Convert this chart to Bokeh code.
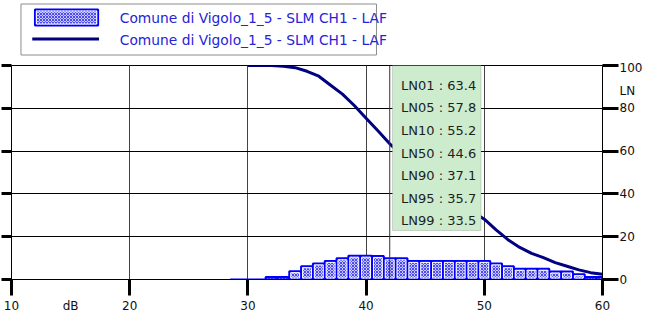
from bokeh.plotting import figure
from bokeh.models import (ColumnDataSource, Range1d, FixedTicker, LinearAxis,
                          BoxAnnotation, Span, LabelSet)
from bokeh.layouts import column
from bokeh.embed import file_html
from bokeh.resources import INLINE
from bokeh.core.properties import value

# ---------------- data ----------------
bin_db = [29, 30, 31, 32, 33, 34, 35, 36, 37, 38, 39, 40, 41, 42, 43, 44,
          45, 46, 47, 48, 49, 50, 51, 52, 53, 54, 55, 56, 57, 58, 59, 60]
bin_pct = [0, 0, 0, 1.2, 1.2, 3.9, 6.2, 7.5, 8.7, 9.9, 11.1, 11.1, 11.0, 9.9, 9.9, 8.7,
           8.7, 8.7, 8.7, 8.7, 8.7, 8.7, 7.5, 6.2, 5.0, 5.0, 5.0, 3.7, 3.7, 2.5, 1.2, 1.2]

curve_db = [30, 31, 32, 33, 34, 35, 36, 37, 38, 39, 40, 41, 42, 43, 44, 45,
            46, 47, 48, 49, 50, 51, 52, 53, 54, 55, 56, 57, 58, 59, 60]
curve_pct = [100, 100, 100, 99.7, 99.0, 97.3, 95.0, 90.8, 86.6, 81.3, 75.3, 69.5, 63.4, 58.4, 53.2, 48.3,
             43.8, 39.6, 35.6, 31.8, 28.2, 23.2, 18.6, 15.0, 12.2, 10.2, 7.9, 6.2, 4.5, 3.2, 2.5]

ln_names = ["LN01", "LN05", "LN10", "LN50", "LN90", "LN95", "LN99"]
ln_values = [63.4, 57.8, 55.2, 44.6, 37.1, 35.7, 33.5]

x_ticks = [10, 20, 30, 40, 50, 60]
y_ticks = [0, 20, 40, 60, 80, 100]
series_label = "Comune di Vigolo_1_5 - SLM  CH1 - LAF"
x_unit = "dB"
y_unit = "LN"
x_unit_pos = 15
y_unit_pos = 88
cursor_db = 42.0

# ---------------- styles ----------------
FONT_NAME = "DejaVu Sans"
FONT = value(FONT_NAME)
NAVY = "#000080"
BAR_STYLE = dict(fill_color="#c8c8ff", line_color="#0000ff", line_width=2,
                 hatch_pattern="x", hatch_scale=3, hatch_color="#4a4af0", hatch_weight=1)
W = 655
LEG_H = 60
MAIN_H = 258

# ---------------- legend strip (pixel space) ----------------
lg = figure(width=W, height=LEG_H, x_range=Range1d(0, W), y_range=Range1d(LEG_H, 0),
            toolbar_location=None, output_backend="svg", x_axis_type=None, y_axis_type=None,
            min_border=0, min_border_left=0, min_border_right=0, min_border_top=0,
            min_border_bottom=0, outline_line_color=None)
lg.quad(left=[10.5], right=[404.5], top=[3.5], bottom=[54.5], fill_color="white",
        line_color="#8c8c8c", line_width=1)
lg.quad(left=[26], right=[96], top=[9], bottom=[25], **BAR_STYLE)
lg.quad(left=[27.5], right=[94.5], top=[10.5], bottom=[23.5], fill_color=None,
        line_color="white", line_width=1)
lg.line(x=[23, 97], y=[38.5, 38.5], line_color=NAVY, line_width=3)
lg.text(x=[120, 120], y=[17, 39], text=[series_label, series_label], text_font=FONT,
        text_font_size="13.8px", text_color="#2424d8", text_baseline="middle", text_align="left")

# ---------------- main plot ----------------
p = figure(width=W, height=MAIN_H, x_range=Range1d(10, 60), y_range=Range1d(0, 100),
           toolbar_location=None, output_backend="svg", y_axis_location="right",
           min_border_left=11, min_border_right=53, min_border_top=5, min_border_bottom=39)
p.outline_line_color = "black"
p.outline_line_width = 1

# grids
p.xgrid.ticker = FixedTicker(ticks=x_ticks[1:-1])
p.xgrid.grid_line_color = "#444444"
p.ygrid.ticker = FixedTicker(ticks=y_ticks[1:-1])
p.ygrid.grid_line_color = "black"

def tick_axis(ax, ticks, out):
    """Axis that draws only its tick marks (labels switched off)."""
    ax.ticker = FixedTicker(ticks=ticks)
    ax.major_tick_out = out
    ax.major_tick_in = 0
    ax.major_tick_line_width = 3
    ax.major_tick_line_color = "black"
    ax.minor_tick_line_color = None
    ax.axis_line_color = "black"
    ax.major_label_standoff = 0
    ax.major_label_text_color = None
    ax.major_label_text_font_size = "0px"

def label_axis(ax, ticks, overrides, standoff):
    """Axis that draws only its labels."""
    ax.ticker = FixedTicker(ticks=ticks)
    ax.major_label_overrides = overrides
    ax.major_tick_out = 0
    ax.major_tick_in = 0
    ax.major_tick_line_color = None
    ax.minor_tick_line_color = None
    ax.axis_line_color = None
    ax.major_label_standoff = standoff
    ax.major_label_text_font = FONT_NAME
    ax.major_label_text_font_size = "12px"
    ax.major_label_text_color = "#111111"

# bottom: tick marks, then labels (incl. unit)
tick_axis(p.xaxis[0], x_ticks, 16)
xb = LinearAxis()
label_axis(xb, sorted(x_ticks + [x_unit_pos]), {x_unit_pos: x_unit}, 3)
p.add_layout(xb, "below")

# right: tick marks, then labels (incl. unit)
tick_axis(p.yaxis[0], y_ticks, 16)
yr = LinearAxis()
label_axis(yr, sorted(y_ticks + [y_unit_pos]), {y_unit_pos: y_unit}, 1)
p.add_layout(yr, "right")

# left: tick stubs only
yl = LinearAxis()
tick_axis(yl, y_ticks, 10)
p.add_layout(yl, "left")

# histogram bars (blue outline, white inner rim)
p.vbar(x=bin_db, width=1, top=bin_pct, bottom=0, **BAR_STYLE)
inner = [(x, t) for x, t in zip(bin_db, bin_pct) if t > 1.5]
p.vbar(x=[x for x, _ in inner], width=0.75, top=[t - 0.7 for _, t in inner], bottom=0.7,
       fill_color=None, line_color="white", line_width=1)

# cumulative curve
p.line(curve_db, curve_pct, line_color=NAVY, line_width=3, line_join="round")

# cursor
p.add_layout(Span(location=cursor_db, dimension="height", line_color="#333333", line_width=1))

# LN statistics box
p.add_layout(BoxAnnotation(left=42.23, right=49.72, top=100, bottom=22.9,
                           fill_color="#cdeccd", fill_alpha=1,
                           line_color="#7f7f7f", line_width=1))
row_top, row_step = 90.7, 10.55
src = ColumnDataSource(dict(
    x=[42.96] * len(ln_names),
    y=[row_top - i * row_step for i in range(len(ln_names))],
    text=[f"{n} : {v}" for n, v in zip(ln_names, ln_values)]))
p.add_layout(LabelSet(x="x", y="y", text="text", source=src, text_font=FONT,
                      text_font_size="13px", text_color="#1e1e1e",
                      text_baseline="middle", text_align="left"))

layout = column(lg, p, spacing=0)
open("out.html", "w").write(file_html(layout, INLINE))
